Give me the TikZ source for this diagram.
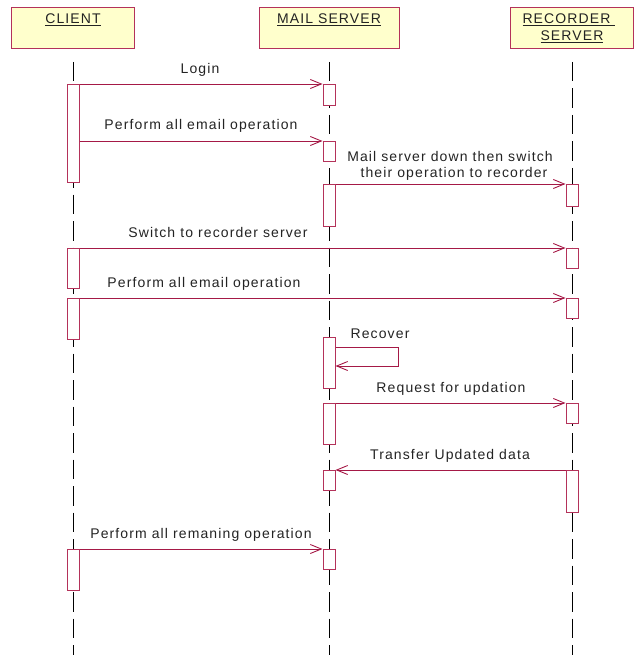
\documentclass[tikz,border=0pt]{standalone}
\usepackage{fontspec}
\usetikzlibrary{arrows.meta}
\newfontfamily\lab[LetterSpace=8]{Liberation Sans}
\definecolor{boxc}{RGB}{180,50,90}
\definecolor{msgc}{RGB}{165,25,70}
\definecolor{yel}{RGB}{255,255,204}
\definecolor{txt}{RGB}{35,35,35}
\begin{document}
\begin{tikzpicture}[x=1pt,y=-1pt,
  head/.style={rectangle, draw=boxc, fill=yel, line width=1pt, anchor=north west, inner sep=0pt},
  bar/.style={rectangle, draw=boxc, fill=white, line width=1pt, minimum width=12pt, anchor=north, inner sep=0pt},
  msg/.style={draw=msgc, line width=0.9pt, -{Straight Barb[length=11pt,width=9pt]}},
  life/.style={draw=black, line width=0.8pt, dash pattern=on 19.5pt off 7pt},
  lbl/.style={font=\lab\fontsize{14}{16}\selectfont, text=txt, anchor=base, inner sep=0pt}]
\useasboundingbox (0,0) rectangle (634,655);

% header boxes
\node[head, minimum width=123pt, minimum height=41pt] (client) at (11,7) {};
\node[head, minimum width=140pt, minimum height=41pt] (mail) at (259,7) {};
\node[head, minimum width=123pt, minimum height=41pt] (rec) at (510,7) {};
\node[lbl] (clientt) at (73,24) {\underline{CLIENT}};
\node[lbl] (mailt) at (329,24) {\underline{MAIL SERVER}};
\node[lbl] (rect1) at (569,24) {\underline{\hbox{RECORDER\ }}};
\node[lbl] (rect2) at (572,41) {\underline{SERVER}};

% lifelines
\coordinate (cT) at (73,62);  \coordinate (cB) at (73,655);
\coordinate (mT) at (329,62); \coordinate (mB) at (329,655);
\coordinate (rT) at (572,62); \coordinate (rB) at (572,655);
\draw[life] (cT) -- (cB);
\draw[life] (mT) -- (mB);
\draw[life] (rT) -- (rB);

% activation bars
\node[bar, minimum height=98pt] (c1) at (73,84) {};
\node[bar, minimum height=40pt] (c2) at (73,248) {};
\node[bar, minimum height=41pt] (c3) at (73,298) {};
\node[bar, minimum height=41pt] (c4) at (73,549) {};

\node[bar, minimum height=21pt] (m1) at (329,84) {};
\node[bar, minimum height=20pt] (m2) at (329,141) {};
\node[bar, minimum height=42pt] (m3) at (329,184) {};
\node[bar, minimum height=51pt] (m4) at (329,337) {};
\node[bar, minimum height=41pt] (m5) at (329,403) {};
\node[bar, minimum height=20pt] (m6) at (329,470) {};
\node[bar, minimum height=20pt] (m7) at (329,549) {};

\node[bar, minimum height=22pt] (r1) at (572,184) {};
\node[bar, minimum height=20pt] (r2) at (572,248) {};
\node[bar, minimum height=20pt] (r3) at (572,298) {};
\node[bar, minimum height=20pt] (r4) at (572,403) {};
\node[bar, minimum height=42pt] (r5) at (572,470) {};

% messages
\draw[msg] (c1.north east) -- (m1.north west);
\draw[msg] (c1.east |- m2.north) -- (m2.north west);
\draw[msg] (m3.north east) -- (r1.north west);
\draw[msg] (c2.north east) -- (r2.north west);
\draw[msg] (c3.north east) -- (r3.north west);
\draw[msg] ([yshift=-10pt]m4.north east) -- ++(63,0) -- ++(0,19) -- ([yshift=-29pt]m4.north east);
\draw[msg] (m5.north east) -- (r4.north west);
\draw[msg] (r5.north west) -- (m6.north east);
\draw[msg] (c4.north east) -- (m7.north west);

% labels
\node[lbl] (l1) at (200,74) {Login};
\node[lbl] (l2) at (201,130) {Perform all email operation};
\node[lbl] (l3a) at (450,161) {Mail server down then switch};
\node[lbl] (l3b) at (454,177.5) {their operation to recorder};
\node[lbl] (l4) at (218,237) {Switch to recorder server};
\node[lbl] (l5) at (204,287) {Perform all email operation};
\node[lbl] (l6) at (380,338) {Recover};
\node[lbl] (l7) at (451,392) {Request for updation};
\node[lbl] (l8) at (450,459) {Transfer Updated data};
\node[lbl] (l9) at (201,538) {Perform all remaning operation};
\end{tikzpicture}
\end{document}
